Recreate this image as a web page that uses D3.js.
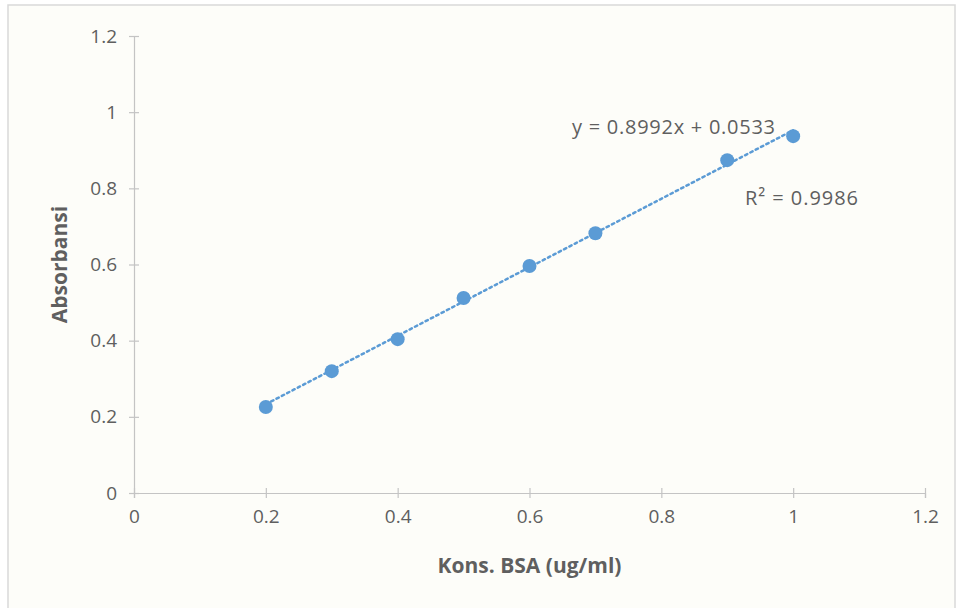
<!DOCTYPE html>
<html>
<head>
<meta charset="utf-8">
<script src="https://cdn.jsdelivr.net/npm/d3@7"></script>
<style>
  body { margin: 0; background: #fff; }
  svg { display: block; }
  text { font-family: "Open Sans", "Liberation Sans", sans-serif; fill: #5f5f5f; }
</style>
</head>
<body>
<svg id="chart" width="959" height="608"></svg>
<script>
// data
var konsentrasi = [0.2, 0.3, 0.4, 0.5, 0.6, 0.7, 0.9, 1.0];
var absorbansi = [0.226, 0.32, 0.404, 0.512, 0.596, 0.682, 0.874, 0.937];
var xTicks = [0, 0.2, 0.4, 0.6, 0.8, 1, 1.2];
var yTicks = [0, 0.2, 0.4, 0.6, 0.8, 1, 1.2];
var slope = 0.8992, intercept = 0.0533;
var eqLabel = 'y = 0.8992x + 0.0533';
var r2Label = 'R² = 0.9986';

var svg = d3.select('#chart');
var W = 959, H = 608;
var m = { left: 134, right: 34, top: 36, bottom: 115 };

// chart area frame
svg.append('rect')
    .attr('x', 8).attr('y', 5)
    .attr('width', W - 12).attr('height', H - 3)
    .attr('fill', '#fdfdf9')
    .attr('stroke', '#d9d9d9').attr('stroke-width', 1.5);

var x = d3.scaleLinear().domain([0, 1.2]).range([m.left, W - m.right]);
var y = d3.scaleLinear().domain([0, 1.2]).range([H - m.bottom, m.top]);

var xAxis = svg.append('g')
    .attr('transform', 'translate(0,' + y(0) + ')')
    .call(d3.axisBottom(x).tickValues(xTicks).tickFormat(d3.format('')).tickSize(5).tickPadding(12));
var yAxis = svg.append('g')
    .attr('transform', 'translate(' + x(0) + ',0)')
    .call(d3.axisLeft(y).tickValues(yTicks).tickFormat(d3.format('')).tickSize(5).tickPadding(12));

[xAxis, yAxis].forEach(function(ax){
    ax.select('.domain').attr('stroke', '#c4c4c4').attr('stroke-width', 1.2);
    ax.selectAll('.tick line').attr('stroke', '#c4c4c4').attr('stroke-width', 1.2);
    ax.selectAll('.tick text').attr('font-size', 19).attr('fill', '#6a6a6a')
        .style('font-family', '"Open Sans", "Liberation Sans", sans-serif');
});
xAxis.selectAll('.tick line').attr('y1', -5).attr('y2', 5);
yAxis.selectAll('.tick line').attr('x1', -5).attr('x2', 5);
xAxis.selectAll('.tick text').attr('dy', '0.71em');

// trendline
var x0 = d3.min(konsentrasi), x1 = d3.max(konsentrasi);
svg.append('line')
    .attr('x1', x(x0)).attr('y1', y(slope * x0 + intercept))
    .attr('x2', x(x1)).attr('y2', y(slope * x1 + intercept))
    .attr('stroke', '#5b9bd5').attr('stroke-width', 2.5)
    .attr('stroke-dasharray', '2.5,3.5').attr('stroke-linecap', 'round');

// points
svg.append('g').selectAll('circle')
    .data(konsentrasi)
    .enter().append('circle')
    .attr('cx', function(d){ return x(d); })
    .attr('cy', function(d, i){ return y(absorbansi[i]); })
    .attr('r', 7)
    .attr('fill', '#5b9bd5');

svg.append('text').attr('x', 572).attr('y', 134)
    .attr('font-size', 20).attr('textLength', 203).text(eqLabel);
svg.append('text').attr('x', 745).attr('y', 205)
    .attr('font-size', 20).attr('textLength', 113).text(r2Label);

// axis titles
svg.append('text')
    .attr('x', x(0.6)).attr('y', 573)
    .attr('text-anchor', 'middle')
    .attr('font-size', 21).attr('font-weight', 'bold')
    .text('Kons. BSA (ug/ml)');
svg.append('text')
    .attr('transform', 'translate(67,' + y(0.6) + ') rotate(-90)')
    .attr('text-anchor', 'middle')
    .attr('font-size', 21).attr('font-weight', 'bold')
    .text('Absorbansi');
</script>
</body>
</html>
